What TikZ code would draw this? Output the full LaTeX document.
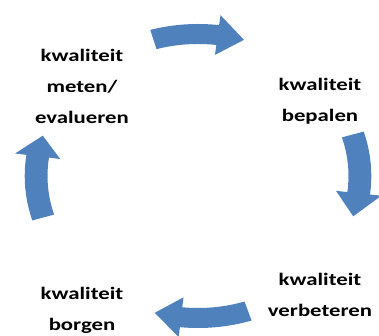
\documentclass[tikz,border=0pt]{standalone}
\usepackage{fontspec}
\setmainfont{Carlito}[FakeStretch=1.3]
\definecolor{cycleblue}{RGB}{79,129,189}
\tikzset{
  step label/.style={font=\bfseries\fontsize{17.5}{31}\selectfont, align=center, inner sep=0pt},
  cycle arrow/.style={fill=cycleblue, draw=none}
}
\begin{document}
\begin{tikzpicture}[x=1pt, y=1pt]
        \useasboundingbox (0,0) rectangle (379,336);

        % Nodes
        \node (meten) [step label] at (82,250) {kwaliteit\\meten/\\evalueren};
        \node (bepalen) [step label] at (320,235) {kwaliteit\\bepalen};
        \node (verbeteren) [step label] at (320,41) {kwaliteit\\verbeteren};
        \node (borgen) [step label] at (82,26) {kwaliteit\\borgen};

        % Arrows
        \begin{scope}[shift={(198,160)}, xscale=1.14]
        \fill[cycle arrow] (106:132) arc[start angle=106, end angle=83, radius=132]
            -- (83:122) -- (73.5:142) -- (83:162) -- (83:152)
            arc[start angle=83, end angle=106, radius=152] -- cycle;
        \fill[cycle arrow] (17:132) arc[start angle=17, end angle=-7, radius=132]
            -- (-7:122) -- (-16.5:142) -- (-7:162) -- (-7:152)
            arc[start angle=-7, end angle=17, radius=152] -- cycle;
        \fill[cycle arrow] (-72:132) arc[start angle=-72, end angle=-96, radius=132]
            -- (-96:122) -- (-105.5:142) -- (-96:162) -- (-96:152)
            arc[start angle=-96, end angle=-72, radius=152] -- cycle;
        \fill[cycle arrow] (197:132) arc[start angle=197, end angle=172, radius=132]
            -- (172:122) -- (163.5:142) -- (172:162) -- (172:152)
            arc[start angle=172, end angle=197, radius=152] -- cycle;
        \end{scope}
    \end{tikzpicture}
\end{document}
